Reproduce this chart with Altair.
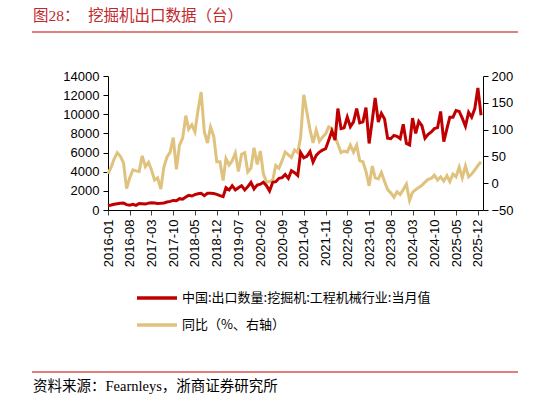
import altair as alt
import pandas as pd

# ---- data (monthly, 2016-01 .. 2026-01) ----
start_month = "2016-01-01"
exports = [
    450, 520, 600, 650, 700, 720, 560, 500, 590, 480, 680, 660,          # 2016
    620, 720, 760, 730, 680, 700, 740, 840, 900, 1000, 970, 1180,        # 2017
    1120, 1350, 1530, 1460, 1600, 1700, 1740, 1500, 1740, 1750, 1720, 1640,  # 2018
    1500, 1400, 2330, 2090, 2540, 2090, 2330, 2540, 2090, 2440, 2890, 2200,  # 2019
    2600, 2700, 2900, 2540, 1990, 2900, 2960, 3310, 3380, 3700, 3300, 4100,  # 2020
    3900, 3600, 6000, 5450, 5600, 6100, 5000, 5700, 6050, 6250, 6400, 7300,  # 2021
    8250, 7300, 10600, 8500, 8600, 9700, 8700, 9200, 10600, 9100, 9200, 10700,  # 2022
    6950, 9400, 11700, 9200, 10100, 9500, 7500, 7450, 7800, 7700, 7450, 8950,  # 2023
    6950, 6800, 9600, 8000, 9250, 8800, 7500, 7900, 8150, 8500, 8600, 10300,  # 2024
    7150, 8500, 9700, 9700, 10400, 10300, 9600, 8750, 10200, 9700, 10600, 12750,  # 2025
    9900,                                                                 # 2026-01
]
yoy = [
    18, 30, 45, 57, 50, 38, -10, 10, 25, 23, 22, 51,
    31, 39, 25, 6, 10, -11, 30, 49, 58, 85, 26, 71,
    84, 126, 101, 109, 96, 137, 170, 96, 75, 105, 88, 40,
    40, 5, 46, 34, 42, 56, 22, 54, 57, 21, 28, 66,
    35, 60, 18, 2, 3, 6, 33, 28, 42, 58, 53, 48,
    62, 57, 85, 165, 133, 100, 75, 99, 78, 86, 92, 105,
    102, 86, 73, 57, 60, 58, 71, 58, 71, 42, 40, 22,
    -5, 32, 10, 8, 20, 3, -12, -18, -26, -16, -21, -12,
    -2, -32, -17, -12, -8, -4, 2, 7, 9, 15, 6, 12,
    4, 14, 3, 17, 12, 30, 10, 32, 12, 17, 25, 33,
    40,
]
tick_months = ["2016-01", "2016-08", "2017-03", "2017-10", "2018-05", "2018-12",
               "2019-07", "2020-02", "2020-09", "2021-04", "2021-11", "2022-06",
               "2023-01", "2023-08", "2024-03", "2024-10", "2025-05", "2025-12"]
left_ticks = [0, 2000, 4000, 6000, 8000, 10000, 12000, 14000]
right_ticks = [-50, 0, 50, 100, 150, 200]
series_names = ["中国:出口数量:挖掘机:工程机械行业:当月值", "同比（%、右轴）"]
colors = ["#C00000", "#DFC27D"]
title_a = "图28："
title_b = "挖掘机出口数据（台）"
source_text = "资料来源：Fearnleys，浙商证券研究所"

dates = pd.date_range(start_month, periods=len(exports), freq="MS")
df = pd.DataFrame({"date": dates.strftime("%Y-%m-%d"), "exports": exports, "yoy": yoy})

NUM_FONT = "Liberation Sans"
CJK_FONT = "Noto Sans CJK SC"
SERIF_MIX = "Liberation Serif, Noto Sans CJK SC"


def dt(s):
    return alt.DateTime(year=int(s[:4]), month=int(s[5:7]), date=1, utc=True)


x_enc = alt.X(
    "date:T",
    scale=alt.Scale(type="utc", domain=[dt("2016-01"), alt.DateTime(year=2026, month=1, date=20, utc=True)]),
    axis=alt.Axis(values=[dt(m) for m in tick_months],
                  labelExpr="utcFormat(datum.value, '%Y-%m')",
                  labelAngle=270, title=None, grid=False, tickSize=5, labelPadding=4,
                  labelFont=NUM_FONT, labelFontSize=13, labelColor="#000",
                  domainColor="#000", tickColor="#444", labelOverlap=False),
)

color_scale = alt.Scale(domain=series_names, range=colors)
legend = alt.Legend(orient="none", legendX=37, legendY=210, direction="vertical", title=None,
                    symbolType="M-2,0L2,0", symbolSize=400, symbolStrokeWidth=3.5,
                    labelFont=CJK_FONT, labelFontSize=13, labelColor="#000", labelOffset=13,
                    rowPadding=8, padding=0, labelLimit=400)

base = alt.Chart(df)

gold = base.transform_calculate(series=f"'{series_names[1]}'").mark_line(strokeWidth=3).encode(
    x=x_enc,
    y=alt.Y("yoy:Q", scale=alt.Scale(domain=[-50, 200], nice=False),
            axis=alt.Axis(orient="right", values=right_ticks, title=None, grid=False, format="d",
                          tickSize=5, labelPadding=3, labelFont=NUM_FONT, labelFontSize=13,
                          labelColor="#000", domainColor="#000", tickColor="#000")),
    color=alt.Color("series:N", scale=color_scale, legend=legend),
)

red = base.transform_calculate(series=f"'{series_names[0]}'").mark_line(strokeWidth=3).encode(
    x=x_enc,
    y=alt.Y("exports:Q", scale=alt.Scale(domain=[0, 14000], nice=False),
            axis=alt.Axis(orient="left", values=left_ticks, title=None, grid=False, format="d",
                          tickSize=5, labelPadding=4, labelFont=NUM_FONT, labelFontSize=13,
                          labelColor="#000", domainColor="#000", tickColor="#000")),
    color=alt.Color("series:N", scale=color_scale, legend=legend),
)

one = pd.DataFrame({"k": [0]})
deco_color = "#D9534F"
title1 = alt.Chart(one).mark_text(text=title_a, font=SERIF_MIX, fontSize=15.5, color="#C0282D",
                                  align="left", baseline="middle").encode(
    x=alt.value(-75), y=alt.value(-60))
title2 = alt.Chart(one).mark_text(text=title_b, font=SERIF_MIX, fontSize=15.5, color="#C0282D",
                                  align="left", baseline="middle").encode(
    x=alt.value(-20), y=alt.value(-60))
top_line = alt.Chart(one).mark_rule(color=deco_color, strokeWidth=1.5).encode(
    x=alt.value(-76), x2=alt.value(410), y=alt.value(-44))
bottom_line = alt.Chart(one).mark_rule(color=deco_color, strokeWidth=1.5).encode(
    x=alt.value(-76), x2=alt.value(410), y=alt.value(296))
source = alt.Chart(one).mark_text(text=source_text, font=SERIF_MIX, fontSize=14.5, color="#000",
                                  align="left", baseline="middle").encode(
    x=alt.value(-75), y=alt.value(311))

lines = alt.layer(gold, red).resolve_scale(y="independent")

chart = alt.layer(lines, title1, title2, top_line, bottom_line, source).properties(
    width=375, height=134,
    autosize=alt.AutoSizeParams(type="none"),
    padding={"left": 108, "top": 76, "right": 65, "bottom": 194},
    background="white",
).configure_view(stroke=None)

chart.save("out.html", embed_options={"renderer": "svg", "actions": False})
